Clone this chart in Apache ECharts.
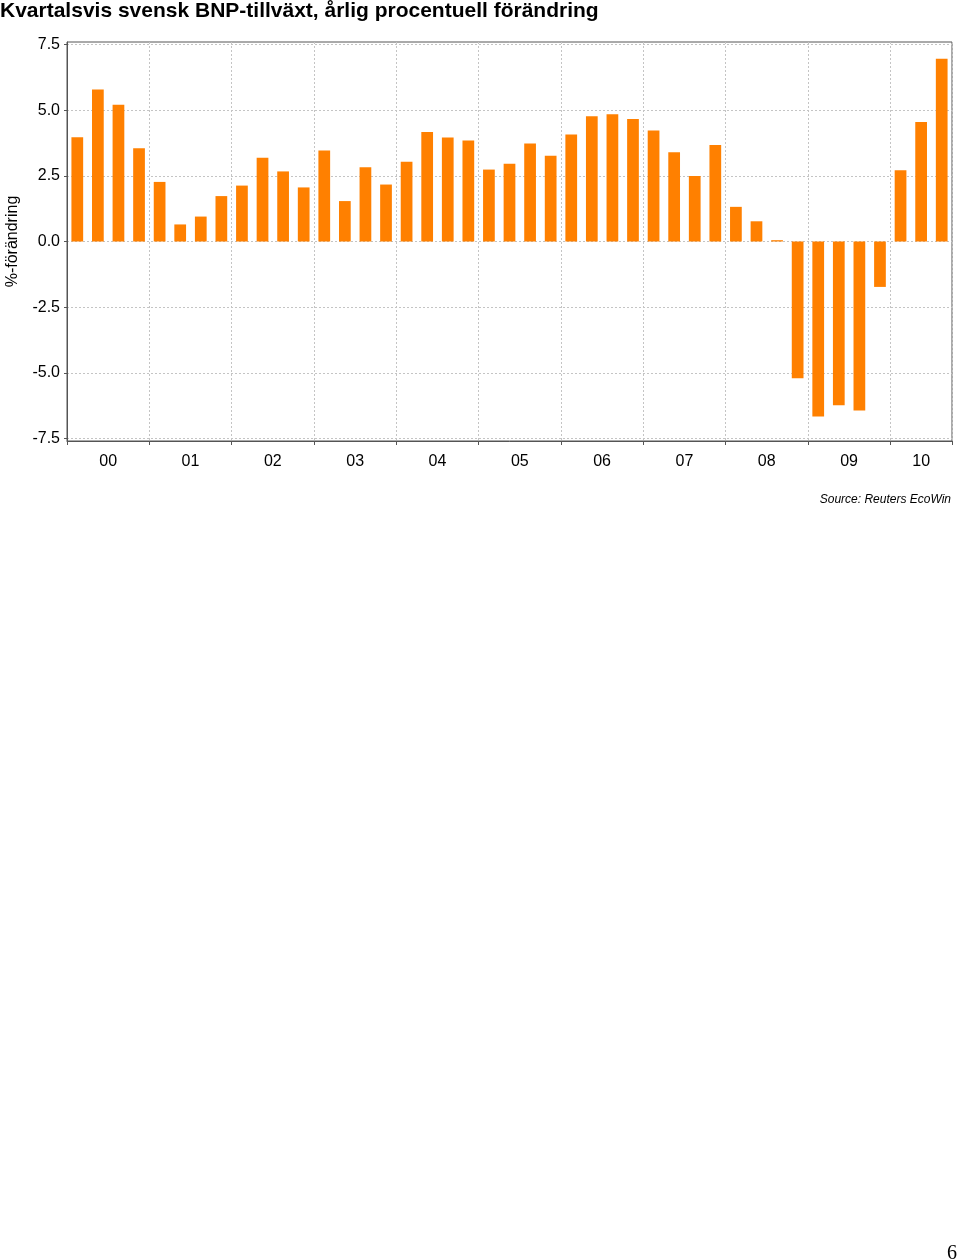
<!DOCTYPE html>
<html>
<head>
<meta charset="utf-8">
<script src="https://cdn.jsdelivr.net/npm/echarts@6/dist/echarts.min.js"></script>
<style>
html,body{margin:0;padding:0;background:#fff;}
#chart{width:960px;height:1260px;}
</style>
</head>
<body>
<div id="chart"></div>
<script>
// ---- data ----
const yearLabels = ['00','01','02','03','04','05','06','07','08','09','10'];
const quartersPerYear = [4,4,4,4,4,4,4,4,4,4,3];
const gdpGrowth = [
  3.97, 5.79, 5.21, 3.55,   // 2000
  2.27, 0.65, 0.95, 1.73,   // 2001
  2.13, 3.19, 2.67, 2.06,   // 2002
  3.47, 1.54, 2.83, 2.17,   // 2003
  3.04, 4.17, 3.96, 3.85,   // 2004
  2.74, 2.96, 3.73, 3.27,   // 2005
  4.08, 4.77, 4.85, 4.67,   // 2006
  4.23, 3.40, 2.50, 3.68,   // 2007
  1.32, 0.77, 0.05, -5.21,  // 2008
  -6.67, -6.24, -6.44, -1.73, // 2009
  2.71, 4.55, 6.96          // 2010
];
const yTicks = [-7.5, -5.0, -2.5, 0.0, 2.5, 5.0, 7.5];
const titleText = 'Kvartalsvis svensk BNP-tillväxt, årlig procentuell förändring';
const yName = '%-förändring';
const sourceText = 'Source: Reuters EcoWin';
const pageNo = '6';

// ---- derived ----
const categories = [];
const yearStartIdx = [];
const yearCentres = [];
let idx = 0;
yearLabels.forEach((y, k) => {
  yearStartIdx.push(idx);
  yearCentres.push(idx + quartersPerYear[k] / 2);
  for (let q = 1; q <= quartersPerYear[k]; q++) categories.push(y + 'Q' + q);
  idx += quartersPerYear[k];
});
const nQ = categories.length;
const isYearStart = (i) => yearStartIdx.indexOf(i) >= 0;

const FONT = '"Liberation Sans", Arial, sans-serif';
const gridLine = { show: true, lineStyle: { color: '#c4c4c4', type: [2, 2], width: 1 } };

const chart = echarts.init(document.getElementById('chart'), null, { renderer: 'canvas' });
chart.setOption({
  animation: false,
  backgroundColor: '#fff',
  textStyle: { fontFamily: FONT },
  title: [
    { text: titleText, left: 0, top: 1, padding: 0,
      textStyle: { fontFamily: FONT, fontWeight: 'bold', fontSize: 21, color: '#000' } },
    { text: sourceText, right: 9, top: 494, padding: 0,
      textStyle: { fontFamily: FONT, fontStyle: 'italic', fontWeight: 'normal', fontSize: 12, color: '#000' } }
  ],
  grid: { left: 67, right: 8, top: 42, bottom: 819, show: true, borderColor: '#555', borderWidth: 1,
    containLabel: false, outerBoundsMode: 'none' },
  xAxis: [
    { type: 'category', data: categories, boundaryGap: true, position: 'bottom',
      axisLine: { onZero: false, lineStyle: { color: '#555', width: 1 } },
      axisTick: { show: true, length: 4, interval: (i) => isYearStart(i), lineStyle: { color: '#555' } },
      axisLabel: { show: false },
      splitLine: Object.assign({ interval: (i) => isYearStart(i) }, gridLine)
    },
    { type: 'value', min: 0, max: nQ, position: 'bottom',
      axisLine: { show: false, onZero: false }, axisTick: { show: false }, splitLine: { show: false },
      axisLabel: { show: true, customValues: yearCentres, margin: 13, fontSize: 16, color: '#000', fontFamily: FONT,
        formatter: (v) => { const k = yearCentres.indexOf(v); return k >= 0 ? yearLabels[k] : ''; } }
    }
  ],
  yAxis: {
    type: 'value', min: -7.6, max: 7.6,
    name: yName, nameLocation: 'middle', nameGap: 46, nameRotate: 90,
    nameTextStyle: { fontFamily: FONT, fontSize: 16, color: '#000' },
    axisLine: { show: true, lineStyle: { color: '#555', width: 1 } },
    axisTick: { show: true, length: 3, customValues: yTicks, lineStyle: { color: '#555' } },
    axisLabel: { show: true, customValues: yTicks, margin: 7, fontSize: 16, color: '#000', fontFamily: FONT,
      formatter: (v) => v.toFixed(1) },
    splitLine: gridLine
  },
  series: [{
    type: 'bar', xAxisIndex: 0, yAxisIndex: 0, data: gdpGrowth, barWidth: '57%',
    itemStyle: { color: '#ff8000' }
  }],
  graphic: [{
    type: 'text', right: 3, top: 1244,
    style: { text: pageNo, font: '20px "Liberation Serif", "Times New Roman", serif', fill: '#000' }
  }]
});
</script>
</body>
</html>
